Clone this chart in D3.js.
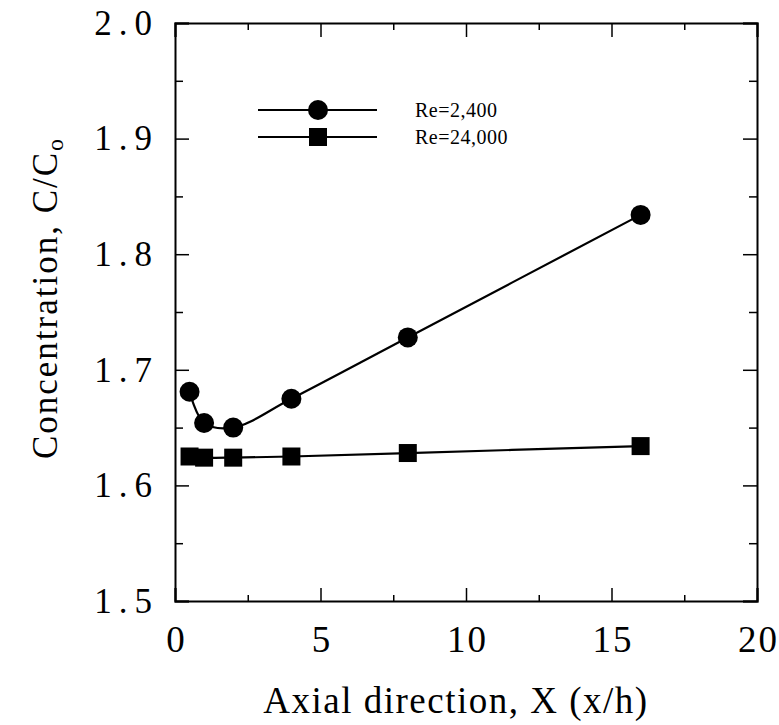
<!DOCTYPE html>
<html>
<head>
<meta charset="utf-8">
<script src="https://cdn.jsdelivr.net/npm/d3@7/dist/d3.min.js"></script>
<style>
  body { margin: 0; background: #fff; }
  svg { display: block; }
  .axis path { stroke: #000; stroke-width: 2; }
  .axis line { stroke: #000; stroke-width: 1.5; }
  .axis text { font-family: "Liberation Serif", "Times New Roman", serif; fill: #000; }
</style>
</head>
<body>
<svg id="chart" width="779" height="725"></svg>
<script>
// data
var xValues = [0.5, 1, 2, 4, 8, 16];
var re2400 = [1.681, 1.654, 1.650, 1.675, 1.728, 1.834];
var re24000 = [1.625, 1.624, 1.624, 1.625, 1.628, 1.634];
var seriesNames = ['Re=2,400', 'Re=24,000'];
var xTicks = [0, 5, 10, 15, 20];
var xMinor = [2.5, 7.5, 12.5, 17.5];
var yTicks = [1.5, 1.6, 1.7, 1.8, 1.9, 2.0];
var yMinor = [1.55, 1.65, 1.75, 1.85, 1.95];

var margin = {left: 175, right: 22, top: 23, bottom: 124};
var width = 779, height = 725;

var svg = d3.select('#chart');

var x = d3.scaleLinear().domain([0, 20]).range([margin.left, width - margin.right]);
var y = d3.scaleLinear().domain([1.5, 2.0]).range([height - margin.bottom, margin.top]);

var fmtY = d3.format('.1f');

// bottom axis
svg.append('g').attr('class', 'axis')
	.attr('transform', 'translate(0,' + y(1.5) + ')')
	.call(d3.axisBottom(x).tickValues(xTicks).tickSize(-13).tickPadding(25).tickFormat(d3.format('d')))
	.call(function(g) {
		g.selectAll('text').style('font-size', '37px').attr('letter-spacing', '2px').attr('dx', '1px');
	});
svg.append('g').attr('class', 'axis')
	.attr('transform', 'translate(0,' + y(1.5) + ')')
	.call(d3.axisBottom(x).tickValues(xMinor).tickSize(-6).tickFormat(''))
	.call(function(g) { g.select('.domain').remove(); });

// top axis
svg.append('g').attr('class', 'axis')
	.attr('transform', 'translate(0,' + y(2.0) + ')')
	.call(d3.axisTop(x).tickValues(xTicks).tickSize(-14).tickFormat(''));
svg.append('g').attr('class', 'axis')
	.attr('transform', 'translate(0,' + y(2.0) + ')')
	.call(d3.axisTop(x).tickValues(xMinor).tickSize(-7).tickFormat(''))
	.call(function(g) { g.select('.domain').remove(); });

// left axis
svg.append('g').attr('class', 'axis')
	.attr('transform', 'translate(' + x(0) + ',0)')
	.call(d3.axisLeft(y).tickValues(yTicks).tickSize(-14).tickPadding(16).tickFormat(fmtY))
	.call(function(g) {
		g.selectAll('text').style('font-size', '35px').attr('letter-spacing', '7px');
	});
svg.append('g').attr('class', 'axis')
	.attr('transform', 'translate(' + x(0) + ',0)')
	.call(d3.axisLeft(y).tickValues(yMinor).tickSize(-8).tickFormat(''))
	.call(function(g) { g.select('.domain').remove(); });

// right axis
svg.append('g').attr('class', 'axis')
	.attr('transform', 'translate(' + x(20) + ',0)')
	.call(d3.axisRight(y).tickValues(yTicks).tickSize(-14).tickFormat(''));
svg.append('g').attr('class', 'axis')
	.attr('transform', 'translate(' + x(20) + ',0)')
	.call(d3.axisRight(y).tickValues(yMinor).tickSize(-8).tickFormat(''))
	.call(function(g) { g.select('.domain').remove(); });

// axis titles
svg.append('text')
	.attr('x', 456)
	.attr('y', 713)
	.attr('text-anchor', 'middle')
	.attr('letter-spacing', '1.5px')
	.style('font-family', '"Liberation Serif", serif')
	.style('font-size', '37px')
	.text('Axial direction, X (x/h)');

var yt = svg.append('text')
	.attr('transform', 'translate(57,298) rotate(-90)')
	.attr('text-anchor', 'middle')
	.attr('letter-spacing', '2px')
	.style('font-family', '"Liberation Serif", serif')
	.style('font-size', '35px');
yt.append('tspan').text('Concentration, C/C');
yt.append('tspan').attr('dy', 6).style('font-size', '24px').text('o');

// lines
var line = d3.line()
	.x(function(d, i) { return x(xValues[i]); })
	.y(function(d) { return y(d); })
	.curve(d3.curveCatmullRom.alpha(0.5));

svg.append('path').datum(re2400)
	.attr('d', line).attr('fill', 'none').attr('stroke', '#000').attr('stroke-width', 2.2);
svg.append('path').datum(re24000)
	.attr('d', line).attr('fill', 'none').attr('stroke', '#000').attr('stroke-width', 2.2);

svg.append('g').selectAll('circle').data(re2400).enter().append('circle')
	.attr('cx', function(d, i) { return x(xValues[i]); })
	.attr('cy', function(d) { return y(d); })
	.attr('r', 10)
	.attr('fill', '#000');

var sq = 18;
svg.append('g').selectAll('rect').data(re24000).enter().append('rect')
	.attr('x', function(d, i) { return x(xValues[i]) - sq / 2; })
	.attr('y', function(d) { return y(d) - sq / 2; })
	.attr('width', sq).attr('height', sq)
	.attr('fill', '#000');

// legend
var legend = svg.append('g');
var legY = [110, 137];
seriesNames.forEach(function(name, i) {
	legend.append('line')
		.attr('x1', 258).attr('x2', 377)
		.attr('y1', legY[i]).attr('y2', legY[i])
		.attr('stroke', '#000').attr('stroke-width', 2);
	if (i === 0) {
		legend.append('circle').attr('cx', 318).attr('cy', legY[i]).attr('r', 10).attr('fill', '#000');
	} else {
		legend.append('rect').attr('x', 318 - sq / 2).attr('y', legY[i] - sq / 2)
			.attr('width', sq).attr('height', sq).attr('fill', '#000');
	}
	legend.append('text')
		.attr('x', 415).attr('y', legY[i] + 7)
		.attr('letter-spacing', '0.5px')
		.style('font-family', '"Liberation Serif", serif')
		.style('font-size', '20px')
		.text(name);
});
</script>
</body>
</html>
